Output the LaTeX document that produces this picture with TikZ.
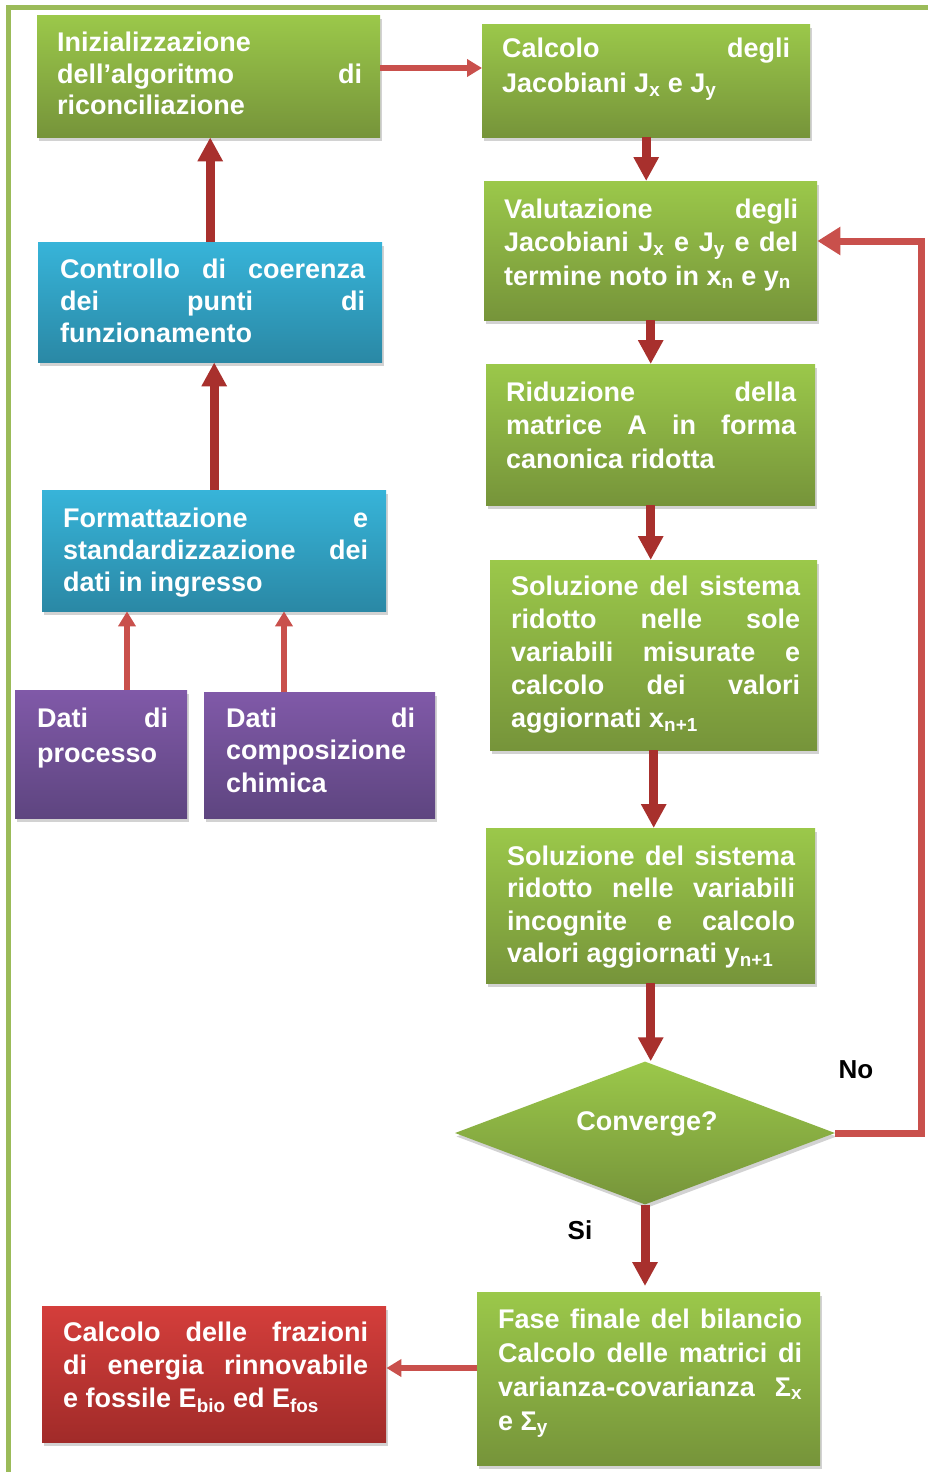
\documentclass[tikz,border=0pt]{standalone}
\usepackage{fontspec}
\setmainfont{Liberation Sans}
\usetikzlibrary{shapes.geometric,shadows,arrows.meta,calc}
\definecolor{gtop}{HTML}{9BC84A}
\definecolor{gbot}{HTML}{76943A}
\definecolor{btop}{HTML}{37B4D9}
\definecolor{bbot}{HTML}{2A88A5}
\definecolor{ptop}{HTML}{8059A8}
\definecolor{pbot}{HTML}{5E4580}
\definecolor{rtop}{HTML}{D43E3B}
\definecolor{rbot}{HTML}{A12B29}
\definecolor{framec}{HTML}{9BBB59}
\definecolor{darr}{HTML}{A8302D}
\definecolor{larr}{HTML}{C9504C}
\newcommand{\jl}[1]{{\spaceskip=0pt\xspaceskip=0pt\makebox[\hsize][s]{#1}}}
\tikzset{
  box/.style={draw=none, inner sep=0pt, anchor=north west,
    drop shadow={shadow xshift=1.5pt, shadow yshift=-3.5pt, opacity=0.35}},
  gbox/.style={box, top color=gtop, bottom color=gbot},
  bbox/.style={box, top color=btop, bottom color=bbot},
  pbox/.style={box, top color=ptop, bottom color=pbot},
  rbox/.style={box, top color=rtop, bottom color=rbot},
  txt/.style 2 args={anchor=base west, inner sep=0pt, text=white, text width=#1pt,
    align=left, font=\bfseries\fontsize{27}{#2}\selectfont,
    execute at begin node={\spaceskip=0pt\xspaceskip=0pt}},
  lbl/.style={inner sep=0pt, text=black, font=\bfseries\fontsize{26}{30}\selectfont},
  thickar/.style={draw=darr, line width=9pt, -{Triangle[width=24pt,length=24pt]}},
  thinar/.style={draw=larr, line width=6pt, -{Triangle[width=17pt,length=15pt]}},
  loopar/.style={draw=larr, line width=7pt, -{Triangle[width=27pt,length=23pt]}},
}
\begin{document}
\begin{tikzpicture}[x=1pt,y=-1pt]
\useasboundingbox (0,0) rectangle (928,1472);
\fill[white] (0,0) rectangle (928,1472);
\draw[framec, line width=5pt] (8,1490) -- (8,8) -- (945,8);

% boxes
\node[gbox, minimum width=343pt, minimum height=122pt] (init) at (37,15) {};
\node[gbox, minimum width=328pt, minimum height=113pt] (calc) at (482,24) {};
\node[bbox, minimum width=344pt, minimum height=120pt] (ctrl) at (38,242) {};
\node[bbox, minimum width=344pt, minimum height=121pt] (form) at (42,490) {};
\node[pbox, minimum width=172pt, minimum height=128pt] (proc) at (15,690) {};
\node[pbox, minimum width=231pt, minimum height=126pt] (comp) at (204,692) {};
\node[gbox, minimum width=333pt, minimum height=139pt] (val) at (484,181) {};
\node[gbox, minimum width=329pt, minimum height=141pt] (rid) at (486,364) {};
\node[gbox, minimum width=327pt, minimum height=190pt] (sol1) at (490,560) {};
\node[gbox, minimum width=329pt, minimum height=155pt] (sol2) at (486,828) {};
\node[diamond, aspect=2.66, minimum width=380pt, minimum height=143pt, inner sep=0pt,
  top color=gtop, bottom color=gbot,
  drop shadow={shadow xshift=1.5pt, shadow yshift=-3.5pt, opacity=0.35}] (dia) at (645,1133) {};
\node[gbox, minimum width=343pt, minimum height=173pt] (fase) at (477,1292) {};
\node[rbox, minimum width=344pt, minimum height=136pt] (fraz) at (42,1306) {};

% texts
\node[txt={305}{31.5}] (tinit) at (57,52) {Inizializzazione\\ \jl{dell’algoritmo di}\\ riconciliazione};
\node[txt={288}{35}] (tcalc) at (502,58) {\jl{Calcolo degli}\\ Jacobiani J\textsubscript{x} e J\textsubscript{y}};
\node[txt={305}{32}] (tctrl) at (60,278) {\jl{Controllo di coerenza}\\ \jl{dei punti di}\\ funzionamento};
\node[txt={305}{32}] (tform) at (63,527) {\jl{Formattazione e}\\ \jl{standardizzazione dei}\\ dati in ingresso};
\node[txt={131}{35}] (tproc) at (37,727) {\jl{Dati di}\\ processo};
\node[txt={189}{32.5}] (tcomp) at (226,727) {\jl{Dati di}\\ composizione\\ chimica};
\node[txt={294}{33.5}] (tval) at (504,218) {\jl{Valutazione degli}\\ \jl{Jacobiani J\textsubscript{x} e J\textsubscript{y} e del}\\ \mbox{termine noto in x\textsubscript{n} e y\textsubscript{n}}};
\node[txt={290}{33.5}] (trid) at (506,401) {\jl{Riduzione della}\\ \jl{matrice A in forma}\\ canonica ridotta};
\node[txt={289}{33}] (tsol1) at (511,595) {\jl{Soluzione del sistema}\\ \jl{ridotto nelle sole}\\ \jl{variabili misurate e}\\ \jl{calcolo dei valori}\\ aggiornati x\textsubscript{n+1}};
\node[txt={288}{32.5}] (tsol2) at (507,865) {\jl{Soluzione del sistema}\\ \jl{ridotto nelle variabili}\\ \jl{incognite e calcolo}\\ valori aggiornati y\textsubscript{n+1}};
\node[txt={304}{34}] (tfase) at (498,1328) {\jl{Fase finale del bilancio}\\ \jl{Calcolo delle matrici di}\\ \jl{varianza-covarianza Σ\textsubscript{x}}\\ e Σ\textsubscript{y}};
\node[txt={305}{33}] (tfraz) at (63,1341) {\jl{Calcolo delle frazioni}\\ \jl{di energia rinnovabile}\\ e fossile E\textsubscript{bio} ed E\textsubscript{fos}};
\node[inner sep=0pt, text=white, font=\bfseries\fontsize{27}{32}\selectfont] (tdia) at (647,1124) {Converge?};

% labels
\node[lbl] (no) at (856,1070) {No};
\node[lbl] (si) at (580,1230) {Si};

% helper coordinates
\coordinate (pa) at (127,0);
\coordinate (pb) at (284,0);
\coordinate (ya) at (0,68);
\coordinate (yb) at (0,1368);
\coordinate (yv) at (0,241);

% connectors
\draw[thickar] (ctrl.north) -- (ctrl.north |- init.south);
\draw[thickar] (form.north) -- (form.north |- ctrl.south);
\draw[thinar] (proc.north -| pa) -- (form.south -| pa);
\draw[thinar] (comp.north -| pb) -- (form.south -| pb);
\draw[thinar] (init.east |- ya) -- (calc.west |- ya);
\draw[thickar] (calc.south) -- (calc.south |- val.north);
\draw[thickar] (val.south) -- (val.south |- rid.north);
\draw[thickar] (rid.south) -- (rid.south |- sol1.north);
\draw[thickar] (sol1.south) -- (sol1.south |- sol2.north);
\draw[thickar] (sol2.south) -- (sol2.south |- dia.north);
\draw[thickar] (dia.south) -- ($(dia.south |- fase.north)+(0,-6)$);
\draw[loopar] (dia.east) -- ++(86,0) |- (val.east |- yv);
\draw[thinar] (fase.west |- yb) -- (fraz.east |- yb);
\end{tikzpicture}
\end{document}
